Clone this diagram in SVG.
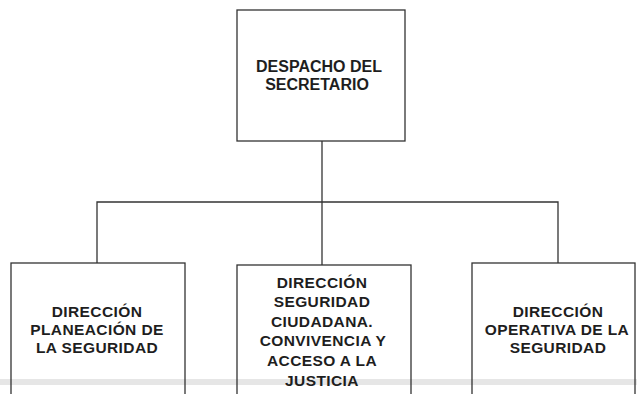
<svg xmlns="http://www.w3.org/2000/svg" width="637" height="394" viewBox="0 0 637 394">
<style>
.box{fill:none;stroke:#333;stroke-width:1.3}
.ln{fill:none;stroke:#333;stroke-width:1.3}
text{font-family:"Liberation Sans",Arial,sans-serif;font-weight:bold;fill:#1e1e1e;text-anchor:middle}
.t{font-size:16px}
.s{font-size:15.5px;letter-spacing:0.4px}
</style>
<rect x="0" y="379" width="637" height="6" fill="#e6e6e6"/>
<g id="connectors">
<path class="ln" d="M322 141 V202"/>
<path class="ln" d="M97 263 V202 H558 V263"/>
<path class="ln" d="M322 202 V265"/>
</g>
<g id="despacho">
<rect class="box" x="237" y="10" width="168" height="131"/>
<text class="t" x="319" y="72">DESPACHO DEL</text>
<text class="t" x="317" y="90">SECRETARIO</text>
</g>
<g id="planeacion">
<rect class="box" x="11" y="263" width="174" height="140"/>
<text class="s" x="97" y="317">DIRECCIÓN</text>
<text class="s" x="97" y="335">PLANEACIÓN DE</text>
<text class="s" x="97" y="353">LA SEGURIDAD</text>
</g>
<g id="ciudadana">
<rect class="box" x="237" y="265" width="174" height="140"/>
<text class="s" x="322" y="288">DIRECCIÓN</text>
<text class="s" x="322" y="307">SEGURIDAD</text>
<text class="s" x="322" y="327">CIUDADANA.</text>
<text class="s" x="323" y="346">CONVIVENCIA Y</text>
<text class="s" x="322" y="366">ACCESO A LA</text>
<text class="s" x="322" y="386">JUSTICIA</text>
</g>
<g id="operativa">
<rect class="box" x="472" y="263" width="163" height="140"/>
<text class="s" x="558" y="317">DIRECCIÓN</text>
<text class="s" x="557" y="335">OPERATIVA DE LA</text>
<text class="s" x="558" y="353">SEGURIDAD</text>
</g>
</svg>
